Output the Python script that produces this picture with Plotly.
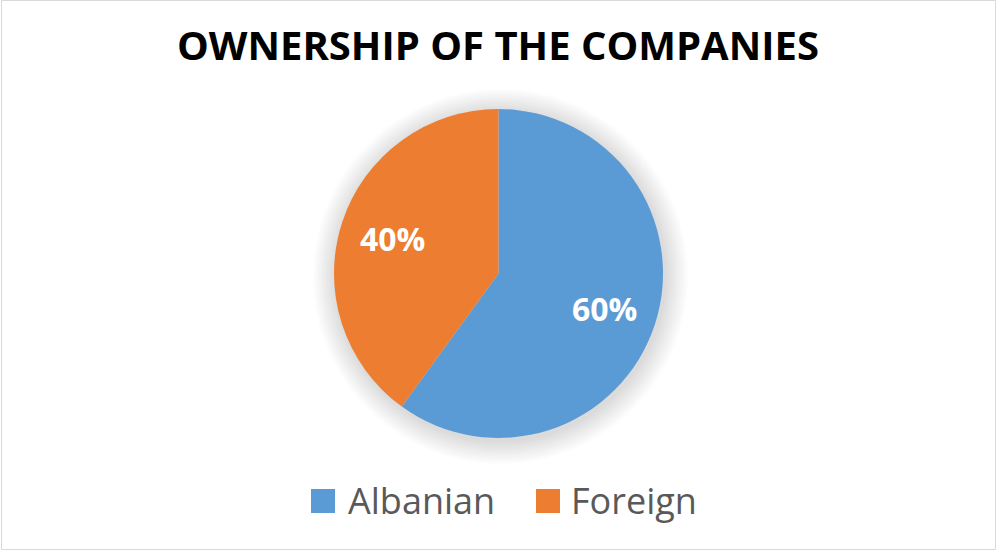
import math
import plotly.graph_objects as go

categories = ["Albanian", "Foreign"]
shares = [60, 40]
colors = ["#5B9BD5", "#ED7D31"]
title_text = "OWNERSHIP OF THE COMPANIES"

W, H = 996, 550
FONT = "Open Sans"

# pie geometry in pixels
cx, cy, r = 498.5, 273.5, 164.5
label_radius_frac = 0.68


def px_x(x):
    return x / W


def px_y(y):
    return 1 - y / H


fig = go.Figure()
fig.add_trace(go.Pie(
    labels=categories,
    values=shares,
    marker=dict(colors=colors, line=dict(color="#FFFFFF", width=0)),
    sort=False,
    direction="clockwise",
    rotation=0,
    textinfo="none",
    domain=dict(x=[px_x(cx - r), px_x(cx + r)], y=[px_y(cy + r), px_y(cy - r)]),
    showlegend=False,
    hoverinfo="label+percent",
))

shapes = []
# soft shadow behind the pie
for i in range(1, 19):
    rr = r + i * 1.3
    shapes.append(dict(
        type="circle", xref="paper", yref="paper", layer="below",
        x0=px_x(cx + 2 - rr), x1=px_x(cx + 2 + rr),
        y0=px_y(cy + 3 + rr), y1=px_y(cy + 3 - rr),
        fillcolor="rgba(0,0,0,0.009)", line=dict(width=0),
    ))
# chart border
shapes.append(dict(
    type="rect", xref="paper", yref="paper",
    x0=px_x(1.5), x1=px_x(995.5), y0=px_y(549.5), y1=px_y(0.5),
    line=dict(color="#D9D9D9", width=1), fillcolor="rgba(0,0,0,0)",
))

annotations = []
# percentage labels placed along each slice's mid-angle (derived from the data)
total = sum(shares)
cum = 0
for v in shares:
    mid = (cum + v / 2) / total * 2 * math.pi
    cum += v
    lx = cx + label_radius_frac * r * math.sin(mid)
    ly = cy - label_radius_frac * r * math.cos(mid)
    annotations.append(dict(
        text="<b>%d%%</b>" % round(100 * v / total), xref="paper", yref="paper",
        x=px_x(lx), y=px_y(ly), xanchor="center", yanchor="middle",
        showarrow=False,
        font=dict(family=FONT, size=32, color="#FFFFFF"),
    ))

# custom legend (squares + labels)
legend_sq_x = [311, 536]
legend_tx_x = [346, 569]
for name, col, sx, tx in zip(categories, colors, legend_sq_x, legend_tx_x):
    shapes.append(dict(
        type="rect", xref="paper", yref="paper",
        x0=px_x(sx), x1=px_x(sx + 24), y0=px_y(513), y1=px_y(489),
        fillcolor=col, line=dict(width=0),
    ))
    annotations.append(dict(
        text=name, xref="paper", yref="paper",
        x=px_x(tx), y=px_y(500), xanchor="left", yanchor="middle",
        showarrow=False,
        font=dict(family=FONT, size=36, color="#595959"),
    ))

annotations.append(dict(
    text="<b>" + title_text + "</b>", xref="paper", yref="paper",
    x=0.5, y=px_y(45), xanchor="center", yanchor="middle", showarrow=False,
    font=dict(family=FONT, size=40, color="#000000"),
))

fig.update_layout(
    width=W, height=H,
    margin=dict(l=0, r=0, t=0, b=0),
    paper_bgcolor="#FFFFFF",
    plot_bgcolor="#FFFFFF",
    shapes=shapes,
    annotations=annotations,
)

fig.write_html(
    "out.html",
    config={"displayModeBar": False},
    post_script="document.body.style.margin='0px';",
)
